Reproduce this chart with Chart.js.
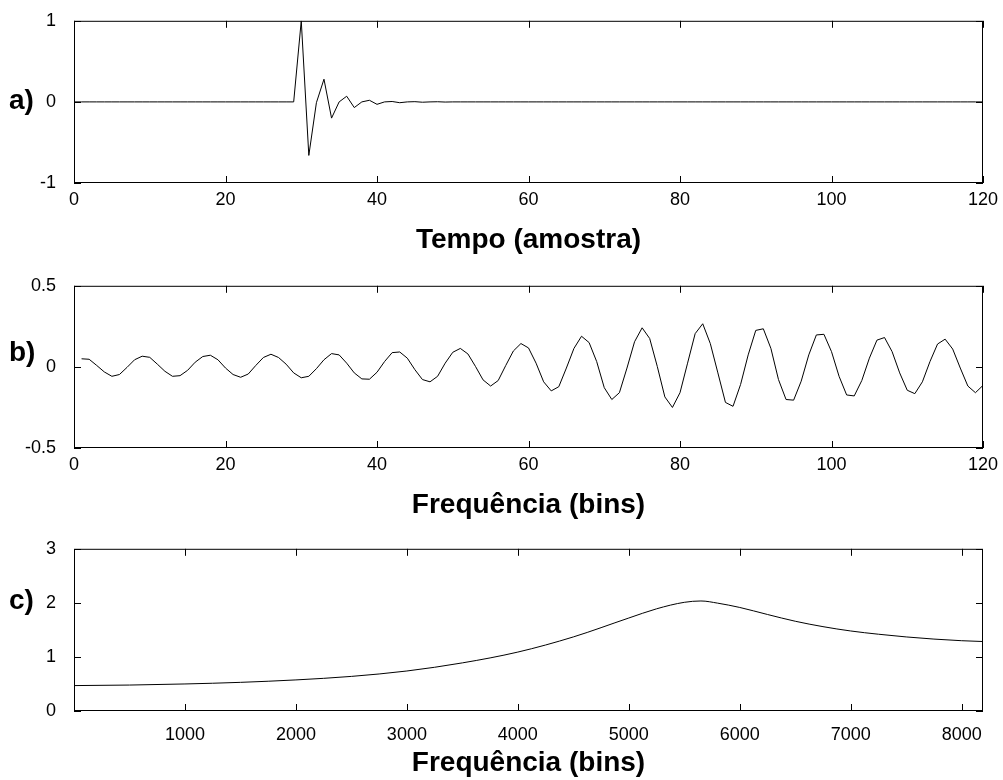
<!DOCTYPE html>
<html>
<head>
<meta charset="utf-8">
<script src="https://cdn.jsdelivr.net/npm/chart.js@4.4.1/dist/chart.umd.min.js"></script>
<style>
  body { margin: 0; background: #fff; }
  canvas { position: absolute; left: 0; }
</style>
</head>
<body>
<canvas id="chartA" width="1003" height="262" style="top:0px"></canvas>
<canvas id="chartB" width="1003" height="262" style="top:265px"></canvas>
<canvas id="chartC" width="1003" height="252" style="top:528px"></canvas>
<script>
// a) impulse response, one value per sample 0..120
const pulseValues = [
  0, 0, 0, 0, 0, 0, 0, 0, 0, 0,
  0, 0, 0, 0, 0, 0, 0, 0, 0, 0,
  0, 0, 0, 0, 0, 0, 0, 0, 0, 0,
  1, -0.66, -0.01, 0.28, -0.2, 0, 0.07, -0.07, 0, 0.02,
  -0.03, 0, 0.005, -0.01, 0, 0.003, -0.004, 0, 0.002, -0.002,
  0, 0, 0, 0, 0, 0, 0, 0, 0, 0,
  0, 0, 0, 0, 0, 0, 0, 0, 0, 0,
  0, 0, 0, 0, 0, 0, 0, 0, 0, 0,
  0, 0, 0, 0, 0, 0, 0, 0, 0, 0,
  0, 0, 0, 0, 0, 0, 0, 0, 0, 0,
  0, 0, 0, 0, 0, 0, 0, 0, 0, 0,
  0, 0, 0, 0, 0, 0, 0, 0, 0, 0,
  0
];

// b) spectrum, bins 1..120
const binStart = 1;
const spectrumValues = [
  0.050, 0.047, 0.009, -0.031, -0.058, -0.047, -0.003, 0.044, 0.066, 0.059,
  0.017, -0.027, -0.058, -0.054, -0.021, 0.029, 0.064, 0.072, 0.044, -0.007,
  -0.047, -0.064, -0.044, 0.009, 0.058, 0.078, 0.058, 0.017, -0.037, -0.067,
  -0.058, -0.011, 0.044, 0.082, 0.074, 0.023, -0.037, -0.074, -0.076, -0.033,
  0.033, 0.088, 0.092, 0.054, -0.017, -0.078, -0.092, -0.058, 0.023, 0.090,
  0.114, 0.080, 0.003, -0.080, -0.118, -0.084, 0.009, 0.098, 0.144, 0.117,
  0.023, -0.092, -0.148, -0.122, -0.007, 0.114, 0.189, 0.150, 0.033, -0.128,
  -0.201, -0.159, -0.007, 0.155, 0.241, 0.175, 0.003, -0.185, -0.250, -0.159,
  0.023, 0.205, 0.266, 0.144, -0.037, -0.219, -0.243, -0.108, 0.074, 0.225,
  0.235, 0.114, -0.078, -0.201, -0.205, -0.088, 0.074, 0.197, 0.201, 0.094,
  -0.058, -0.173, -0.179, -0.084, 0.054, 0.165, 0.181, 0.094, -0.037, -0.144,
  -0.165, -0.092, 0.033, 0.141, 0.171, 0.110, -0.007, -0.118, -0.159, -0.114
];

// c) magnitude curve
const curveBins = [0, 500, 1000, 1500, 2000, 2500, 3000, 3500, 4000, 4500, 5000, 5250, 5500, 5650, 5800, 6000, 6250, 6500, 6750, 7000, 7250, 7500, 7750, 8000, 8192];
const curveValues = [0.47, 0.48, 0.50, 0.53, 0.575, 0.64, 0.74, 0.89, 1.09, 1.37, 1.72, 1.89, 2.01, 2.035, 1.995, 1.915, 1.785, 1.66, 1.56, 1.48, 1.42, 1.37, 1.33, 1.30, 1.285];

const ticksA = { x: [0, 20, 40, 60, 80, 100, 120], y: [-1, 0, 1] };
const ticksB = { x: [0, 20, 40, 60, 80, 100, 120], y: [-0.5, 0, 0.5] };
const ticksC = { x: [1000, 2000, 3000, 4000, 5000, 6000, 7000, 8000], y: [0, 1, 2, 3] };

const FONT = '"Liberation Sans", Arial, Helvetica, sans-serif';

// box around the plot with inward ticks on all four sides, plus the panel letter
const frameTicks = {
  id: 'frameTicks',
  afterDraw(chart, args, opts) {
    const { ctx, chartArea: a, scales: { x, y } } = chart;
    ctx.save();
    ctx.strokeStyle = '#000';
    ctx.lineWidth = 1;
    ctx.strokeRect(a.left + 0.5, a.top + 0.5, a.right - a.left - 1, a.bottom - a.top - 1);
    ctx.beginPath();
    x.ticks.forEach(t => {
      const px = Math.round(x.getPixelForValue(t.value)) + 0.5;
      ctx.moveTo(px, a.bottom); ctx.lineTo(px, a.bottom - 7);
      ctx.moveTo(px, a.top); ctx.lineTo(px, a.top + 7);
    });
    y.ticks.forEach(t => {
      const py = Math.round(y.getPixelForValue(t.value)) + 0.5;
      ctx.moveTo(a.left, py); ctx.lineTo(a.left + 7, py);
      ctx.moveTo(a.right, py); ctx.lineTo(a.right - 7, py);
    });
    ctx.stroke();
    ctx.fillStyle = '#000';
    ctx.font = 'bold 28px ' + FONT;
    ctx.textBaseline = 'middle';
    ctx.textAlign = 'left';
    ctx.fillText(opts.label, 9, opts.labelY);
    ctx.restore();
  }
};

function makeChart(id, points, range, ticks, title, cfg) {
  return new Chart(document.getElementById(id), {
    type: 'line',
    data: {
      datasets: [{
        data: points,
        borderColor: '#000',
        borderWidth: 1,
        pointRadius: 0,
        cubicInterpolationMode: cfg.smooth ? 'monotone' : 'default',
        tension: 0
      }]
    },
    options: {
      responsive: false,
      animation: false,
      layout: { padding: { top: 18, right: 20, left: 0, bottom: cfg.padBottom } },
      plugins: {
        legend: { display: false },
        tooltip: { enabled: false },
        frameTicks: { label: cfg.label, labelY: cfg.labelY }
      },
      scales: {
        x: {
          type: 'linear',
          min: range.xMin, max: range.xMax,
          afterBuildTicks: s => { s.ticks = ticks.x.map(v => ({ value: v })); },
          afterFit: s => { s.height = cfg.axisH; },
          grid: { display: false },
          border: { display: false },
          ticks: { color: '#000', font: { family: FONT, size: 18 }, padding: cfg.tickPad, maxRotation: 0, autoSkip: false, callback: v => String(v) },
          title: { display: true, text: title, color: '#000', padding: 0, font: { family: FONT, size: 28, weight: 'bold' } }
        },
        y: {
          min: range.yMin, max: range.yMax,
          afterBuildTicks: s => { s.ticks = ticks.y.map(v => ({ value: v })); },
          afterFit: s => { s.width = 74; },
          grid: { display: false },
          border: { display: false },
          ticks: { color: '#000', font: { family: FONT, size: 18 }, padding: 10, callback: v => String(v) }
        }
      }
    },
    plugins: [frameTicks]
  });
}

makeChart('chartA',
  pulseValues.map((v, i) => ({ x: i, y: v })),
  { xMin: 0, xMax: 120, yMin: -1, yMax: 1 }, ticksA, 'Tempo (amostra)',
  { label: 'a)', labelY: 101, axisH: 74, padBottom: 5, tickPad: -2 });

makeChart('chartB',
  spectrumValues.map((v, i) => ({ x: i + binStart, y: v })),
  { xMin: 0, xMax: 120, yMin: -0.5, yMax: 0.5 }, ticksB, 'Frequência (bins)',
  { label: 'b)', labelY: 88, axisH: 74, padBottom: 5, tickPad: -2 });

makeChart('chartC',
  curveBins.map((b, i) => ({ x: b, y: curveValues[i] })),
  { xMin: 0, xMax: 8192, yMin: 0, yMax: 3 }, ticksC, 'Frequência (bins)',
  { label: 'c)', labelY: 73, axisH: 69, padBottom: 0, tickPad: 5, smooth: true });
</script>
</body>
</html>
